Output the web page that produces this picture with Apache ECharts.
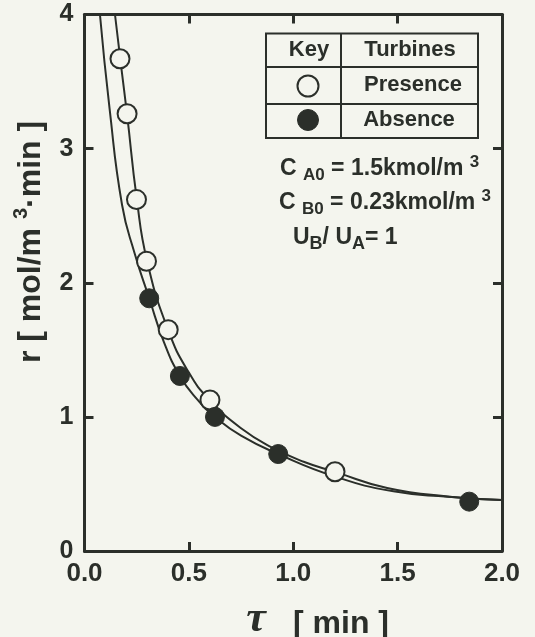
<!DOCTYPE html>
<html>
<head>
<meta charset="utf-8">
<script src="https://cdn.jsdelivr.net/npm/echarts@6/dist/echarts.min.js"></script>
<style>
  html, body { margin: 0; padding: 0; background: #f4f5ee; }
  #chart { width: 535px; height: 637px; }
</style>
</head>
<body>
<div id="chart"></div>
<script>
// Measured rates r [mol/(m3·min)] against residence time tau [min]
const tauPresence = [0.170, 0.204, 0.249, 0.297, 0.401, 0.601, 1.200];
const rPresence   = [3.67, 3.26, 2.62, 2.16, 1.65, 1.126, 0.591];
const tauAbsence  = [0.310, 0.457, 0.625, 0.928, 1.843];
const rAbsence    = [1.884, 1.305, 1.00, 0.723, 0.368];

// Correlation curves drawn through each data set
const tauCurvePresence = [0.146, 0.175, 0.205, 0.25, 0.30, 0.40, 0.50, 0.60, 0.75, 0.90, 1.05, 1.20, 1.45, 1.75, 2.0];
const rCurvePresence   = [4.0, 3.62, 3.24, 2.63, 2.16, 1.65, 1.33, 1.125, 0.915, 0.77, 0.665, 0.59, 0.47, 0.405, 0.38];
const tauCurveAbsence  = [0.074, 0.12, 0.18, 0.24, 0.31, 0.38, 0.457, 0.54, 0.625, 0.75, 0.928, 1.2, 1.48, 1.74, 2.0];
const rCurveAbsence    = [4.0, 3.30, 2.58, 2.22, 1.884, 1.56, 1.305, 1.13, 1.00, 0.86, 0.723, 0.555, 0.445, 0.405, 0.38];

// Axis tick labels
const xTickLabels = ['0.0', '0.5', '1.0', '1.5', '2.0'];
const yTickLabels = ['0', '1', '2', '3', '4'];

const INK = '#2b2f2a';
const PAPER = '#f4f5ee';
const FONT = '"Liberation Sans", Arial, Helvetica, sans-serif';

const pairs = (xs, ys) => xs.map((x, i) => [x, ys[i]]);

const chart = echarts.init(document.getElementById('chart'), null, { renderer: 'canvas' });

const axisCommon = {
  type: 'value',
  axisLine: { show: true, onZero: false, lineStyle: { color: INK, width: 3 } },
  axisTick: { show: true, inside: true, length: 9, lineStyle: { color: INK, width: 3 } },
  splitLine: { show: false }
};

const boldText = (size) => ({ fontSize: size, fontWeight: 'bold', fontFamily: FONT, fill: INK });

chart.setOption({
  backgroundColor: PAPER,
  animation: false,
  grid: { left: 84.5, right: 33, top: 14.5, bottom: 86 },
  xAxis: [
    Object.assign({}, axisCommon, {
      position: 'bottom', min: 0, max: 2, interval: 0.5,
      axisLabel: {
        margin: 10, color: INK, fontSize: 26, fontWeight: 'bold', fontFamily: FONT,
        formatter: (v) => xTickLabels[Math.round(v / 0.5)]
      }
    }),
    Object.assign({}, axisCommon, {
      position: 'top', min: 0, max: 2, interval: 0.5,
      axisLabel: { show: false }
    })
  ],
  yAxis: [
    Object.assign({}, axisCommon, {
      position: 'left', min: 0, max: 4, interval: 1,
      axisLabel: {
        margin: 11, color: INK, fontSize: 25, fontWeight: 'bold', fontFamily: FONT,
        formatter: (v) => yTickLabels[Math.round(v)]
      }
    }),
    Object.assign({}, axisCommon, {
      position: 'right', min: 0, max: 4, interval: 1,
      axisLabel: { show: false }
    })
  ],
  series: [
    {
      name: 'Presence curve', type: 'line', data: pairs(tauCurvePresence, rCurvePresence),
      smooth: 0.5, showSymbol: false, symbol: 'none', clip: true,
      lineStyle: { color: INK, width: 2 }, z: 2
    },
    {
      name: 'Absence curve', type: 'line', data: pairs(tauCurveAbsence, rCurveAbsence),
      smooth: 0.5, showSymbol: false, symbol: 'none', clip: true,
      lineStyle: { color: INK, width: 2 }, z: 2
    },
    {
      name: 'Presence', type: 'scatter', data: pairs(tauPresence, rPresence),
      symbol: 'circle', symbolSize: 19,
      itemStyle: { color: PAPER, borderColor: INK, borderWidth: 2, opacity: 1 }, z: 3
    },
    {
      name: 'Absence', type: 'scatter', data: pairs(tauAbsence, rAbsence),
      symbol: 'circle', symbolSize: 19,
      itemStyle: { color: INK, borderColor: INK, borderWidth: 1, opacity: 1 }, z: 3
    }
  ],
  graphic: [
    // Key table
    { type: 'rect', shape: { x: 266, y: 33.5, width: 212, height: 104.5 },
      style: { fill: 'none', stroke: INK, lineWidth: 2 }, z: 10 },
    { type: 'line', shape: { x1: 341, y1: 33.5, x2: 341, y2: 138 },
      style: { stroke: INK, lineWidth: 2 }, z: 10 },
    { type: 'line', shape: { x1: 266, y1: 67, x2: 478, y2: 67 },
      style: { stroke: INK, lineWidth: 2 }, z: 10 },
    { type: 'line', shape: { x1: 266, y1: 104, x2: 478, y2: 104 },
      style: { stroke: INK, lineWidth: 2 }, z: 10 },
    { type: 'text', x: 309, y: 50, z: 10,
      style: Object.assign({ text: 'Key', textAlign: 'center', textVerticalAlign: 'middle' }, boldText(22)) },
    { type: 'text', x: 410, y: 50, z: 10,
      style: Object.assign({ text: 'Turbines', textAlign: 'center', textVerticalAlign: 'middle' }, boldText(22)) },
    { type: 'text', x: 413, y: 85, z: 10,
      style: Object.assign({ text: 'Presence', textAlign: 'center', textVerticalAlign: 'middle' }, boldText(22)) },
    { type: 'text', x: 409, y: 120, z: 10,
      style: Object.assign({ text: 'Absence', textAlign: 'center', textVerticalAlign: 'middle' }, boldText(22)) },
    { type: 'circle', shape: { cx: 308, cy: 86, r: 10.5 },
      style: { fill: PAPER, stroke: INK, lineWidth: 2 }, z: 10 },
    { type: 'circle', shape: { cx: 308, cy: 120, r: 10.5 },
      style: { fill: INK, stroke: INK, lineWidth: 1 }, z: 10 },

    // Operating conditions
    { type: 'text', x: 280, y: 154, z: 10,
      style: {
        text: '{m|C }{s|A0}{m| = 1.5kmol/m }{p|3}',
        textAlign: 'left', textVerticalAlign: 'top',
        rich: {
          m: Object.assign({ lineHeight: 30, verticalAlign: 'middle' }, boldText(23)),
          s: Object.assign({ lineHeight: 17, verticalAlign: 'bottom' }, boldText(17)),
          p: Object.assign({ lineHeight: 17, verticalAlign: 'top' }, boldText(17))
        }
      } },
    { type: 'text', x: 279, y: 188, z: 10,
      style: {
        text: '{m|C }{s|B0}{m| = 0.23kmol/m }{p|3}',
        textAlign: 'left', textVerticalAlign: 'top',
        rich: {
          m: Object.assign({ lineHeight: 30, verticalAlign: 'middle' }, boldText(23)),
          s: Object.assign({ lineHeight: 17, verticalAlign: 'bottom' }, boldText(17)),
          p: Object.assign({ lineHeight: 17, verticalAlign: 'top' }, boldText(17))
        }
      } },
    { type: 'text', x: 293, y: 223, z: 10,
      style: {
        text: '{m|U}{s|B}{m|/ U}{s|A}{m|= 1}',
        textAlign: 'left', textVerticalAlign: 'top',
        rich: {
          m: Object.assign({ lineHeight: 30, verticalAlign: 'middle' }, boldText(23)),
          s: Object.assign({ lineHeight: 17, verticalAlign: 'bottom' }, boldText(18))
        }
      } },

    // Axis titles
    { type: 'text', x: 31, y: 242, rotation: Math.PI / 2, z: 10,
      style: {
        text: '{m|r [ mol/m }{p|3}{m|·min ]}',
        textAlign: 'center', textVerticalAlign: 'middle',
        rich: {
          m: Object.assign({ lineHeight: 40, verticalAlign: 'middle' }, boldText(32)),
          p: Object.assign({ lineHeight: 20, verticalAlign: 'top' }, boldText(20))
        }
      } },
    { type: 'text', x: 256, y: 620, z: 10,
      style: {
        text: 'τ', textAlign: 'center', textVerticalAlign: 'middle',
        fontSize: 44, fontStyle: 'italic', fontWeight: 'bold',
        fontFamily: '"Liberation Serif", "Times New Roman", serif', fill: INK
      } },
    { type: 'text', x: 293, y: 624, z: 10,
      style: Object.assign({ text: '[ min ]', textAlign: 'left', textVerticalAlign: 'middle' }, boldText(32)) }
  ]
});
</script>
</body>
</html>
